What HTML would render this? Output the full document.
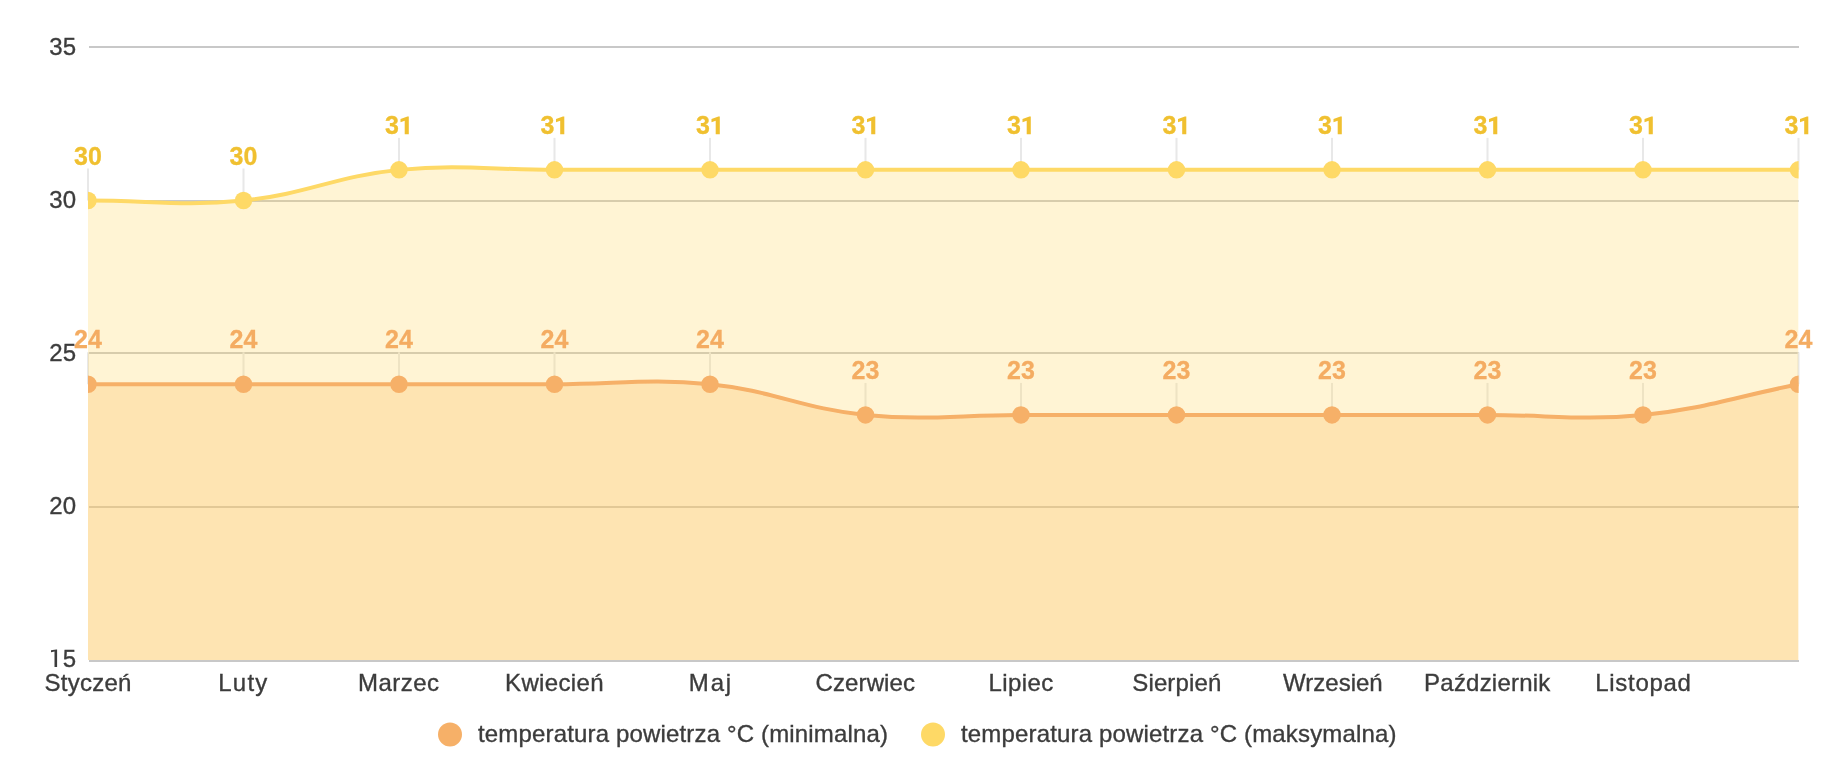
<!DOCTYPE html>
<html><head><meta charset="utf-8"><style>
html,body{margin:0;padding:0;background:#fff;width:1836px;height:782px;overflow:hidden;position:relative;font-family:"Liberation Sans", sans-serif;}
</style></head><body>
<svg width="1836" height="782" viewBox="0 0 1836 782" style="position:absolute;left:0;top:0;will-change:transform">
<style>.t{fill:#3c3c3c;stroke:#3c3c3c;stroke-width:0.35px;}.ly{fill:#F0C030;stroke:#F0C030;stroke-width:0.3px;}.lo{fill:#F4AC62;stroke:#F4AC62;stroke-width:0.3px;}</style>
<defs><clipPath id="c"><rect x="88" y="0" width="1710.6" height="782"/></clipPath></defs>
<rect x="89" y="46" width="1710" height="2" fill="#c8c8c8"/>
<rect x="89" y="200" width="1710" height="2" fill="#c8c8c8"/>
<rect x="89" y="352" width="1710" height="2" fill="#c8c8c8"/>
<rect x="89" y="506" width="1710" height="2" fill="#c8c8c8"/>
<rect x="87.00" y="168.50" width="2" height="32.00" fill="#e8e8e8"/>
<rect x="242.50" y="168.50" width="2" height="32.00" fill="#e8e8e8"/>
<rect x="398.00" y="137.87" width="2" height="32.00" fill="#e8e8e8"/>
<rect x="553.50" y="137.87" width="2" height="32.00" fill="#e8e8e8"/>
<rect x="709.00" y="137.87" width="2" height="32.00" fill="#e8e8e8"/>
<rect x="864.50" y="137.87" width="2" height="32.00" fill="#e8e8e8"/>
<rect x="1020.00" y="137.87" width="2" height="32.00" fill="#e8e8e8"/>
<rect x="1175.50" y="137.87" width="2" height="32.00" fill="#e8e8e8"/>
<rect x="1331.00" y="137.87" width="2" height="32.00" fill="#e8e8e8"/>
<rect x="1486.50" y="137.87" width="2" height="32.00" fill="#e8e8e8"/>
<rect x="1642.00" y="137.87" width="2" height="32.00" fill="#e8e8e8"/>
<rect x="1797.50" y="137.87" width="2" height="32.00" fill="#e8e8e8"/>
<rect x="87.00" y="352.28" width="2" height="32.00" fill="#e8e8e8"/>
<rect x="242.50" y="352.28" width="2" height="32.00" fill="#e8e8e8"/>
<rect x="398.00" y="352.28" width="2" height="32.00" fill="#e8e8e8"/>
<rect x="553.50" y="352.28" width="2" height="32.00" fill="#e8e8e8"/>
<rect x="709.00" y="352.28" width="2" height="32.00" fill="#e8e8e8"/>
<rect x="864.50" y="382.91" width="2" height="32.00" fill="#e8e8e8"/>
<rect x="1020.00" y="382.91" width="2" height="32.00" fill="#e8e8e8"/>
<rect x="1175.50" y="382.91" width="2" height="32.00" fill="#e8e8e8"/>
<rect x="1331.00" y="382.91" width="2" height="32.00" fill="#e8e8e8"/>
<rect x="1486.50" y="382.91" width="2" height="32.00" fill="#e8e8e8"/>
<rect x="1642.00" y="382.91" width="2" height="32.00" fill="#e8e8e8"/>
<rect x="1797.50" y="352.28" width="2" height="32.00" fill="#e8e8e8"/>
<g clip-path="url(#c)">
<path d="M88.00 200.50 C150.20 200.50 181.89 206.57 243.50 200.50 C306.29 194.32 336.21 176.05 399.00 169.87 C460.61 163.80 492.30 169.87 554.50 169.87 C616.70 169.87 647.80 169.87 710.00 169.87 C772.20 169.87 803.30 169.87 865.50 169.87 C927.70 169.87 958.80 169.87 1021.00 169.87 C1083.20 169.87 1114.30 169.87 1176.50 169.87 C1238.70 169.87 1269.80 169.87 1332.00 169.87 C1394.20 169.87 1425.30 169.87 1487.50 169.87 C1549.70 169.87 1580.80 169.87 1643.00 169.87 C1705.20 169.87 1736.30 169.87 1798.50 169.87 L1798.50 660 L88.00 660 Z" fill="rgba(254,217,102,0.28)"/>
<path d="M88.00 384.28 C150.20 384.28 181.30 384.28 243.50 384.28 C305.70 384.28 336.80 384.28 399.00 384.28 C461.20 384.28 492.30 384.28 554.50 384.28 C616.70 384.28 648.39 378.21 710.00 384.28 C772.79 390.46 802.71 408.73 865.50 414.91 C927.11 420.98 958.80 414.91 1021.00 414.91 C1083.20 414.91 1114.30 414.91 1176.50 414.91 C1238.70 414.91 1269.80 414.91 1332.00 414.91 C1394.20 414.91 1425.30 414.91 1487.50 414.91 C1549.70 414.91 1581.39 420.98 1643.00 414.91 C1705.79 408.73 1736.30 396.53 1798.50 384.28 L1798.50 660 L88.00 660 Z" fill="rgba(252,191,99,0.30)"/>
</g>
<rect x="89" y="660" width="1710" height="2" fill="#c8c8c8"/>
<g clip-path="url(#c)">
<path d="M88.00 200.50 C150.20 200.50 181.89 206.57 243.50 200.50 C306.29 194.32 336.21 176.05 399.00 169.87 C460.61 163.80 492.30 169.87 554.50 169.87 C616.70 169.87 647.80 169.87 710.00 169.87 C772.20 169.87 803.30 169.87 865.50 169.87 C927.70 169.87 958.80 169.87 1021.00 169.87 C1083.20 169.87 1114.30 169.87 1176.50 169.87 C1238.70 169.87 1269.80 169.87 1332.00 169.87 C1394.20 169.87 1425.30 169.87 1487.50 169.87 C1549.70 169.87 1580.80 169.87 1643.00 169.87 C1705.20 169.87 1736.30 169.87 1798.50 169.87" fill="none" stroke="#FED966" stroke-width="4"/>
<path d="M88.00 384.28 C150.20 384.28 181.30 384.28 243.50 384.28 C305.70 384.28 336.80 384.28 399.00 384.28 C461.20 384.28 492.30 384.28 554.50 384.28 C616.70 384.28 648.39 378.21 710.00 384.28 C772.79 390.46 802.71 408.73 865.50 414.91 C927.11 420.98 958.80 414.91 1021.00 414.91 C1083.20 414.91 1114.30 414.91 1176.50 414.91 C1238.70 414.91 1269.80 414.91 1332.00 414.91 C1394.20 414.91 1425.30 414.91 1487.50 414.91 C1549.70 414.91 1581.39 420.98 1643.00 414.91 C1705.79 408.73 1736.30 396.53 1798.50 384.28" fill="none" stroke="#F6B068" stroke-width="4"/>
<circle cx="88.00" cy="200.50" r="8.75" fill="#FED966"/>
<circle cx="243.50" cy="200.50" r="8.75" fill="#FED966"/>
<circle cx="399.00" cy="169.87" r="8.75" fill="#FED966"/>
<circle cx="554.50" cy="169.87" r="8.75" fill="#FED966"/>
<circle cx="710.00" cy="169.87" r="8.75" fill="#FED966"/>
<circle cx="865.50" cy="169.87" r="8.75" fill="#FED966"/>
<circle cx="1021.00" cy="169.87" r="8.75" fill="#FED966"/>
<circle cx="1176.50" cy="169.87" r="8.75" fill="#FED966"/>
<circle cx="1332.00" cy="169.87" r="8.75" fill="#FED966"/>
<circle cx="1487.50" cy="169.87" r="8.75" fill="#FED966"/>
<circle cx="1643.00" cy="169.87" r="8.75" fill="#FED966"/>
<circle cx="1798.50" cy="169.87" r="8.75" fill="#FED966"/>
<circle cx="88.00" cy="384.28" r="8.75" fill="#F6B068"/>
<circle cx="243.50" cy="384.28" r="8.75" fill="#F6B068"/>
<circle cx="399.00" cy="384.28" r="8.75" fill="#F6B068"/>
<circle cx="554.50" cy="384.28" r="8.75" fill="#F6B068"/>
<circle cx="710.00" cy="384.28" r="8.75" fill="#F6B068"/>
<circle cx="865.50" cy="414.91" r="8.75" fill="#F6B068"/>
<circle cx="1021.00" cy="414.91" r="8.75" fill="#F6B068"/>
<circle cx="1176.50" cy="414.91" r="8.75" fill="#F6B068"/>
<circle cx="1332.00" cy="414.91" r="8.75" fill="#F6B068"/>
<circle cx="1487.50" cy="414.91" r="8.75" fill="#F6B068"/>
<circle cx="1643.00" cy="414.91" r="8.75" fill="#F6B068"/>
<circle cx="1798.50" cy="384.28" r="8.75" fill="#F6B068"/>
</g>
<text x="88.00" y="165.00" text-anchor="middle" font-family='"Liberation Sans", sans-serif' font-weight="bold" font-size="25" class="ly">30</text>
<text x="243.50" y="165.00" text-anchor="middle" font-family='"Liberation Sans", sans-serif' font-weight="bold" font-size="25" class="ly">30</text>
<text x="385.10" y="134.37" font-family='"Liberation Sans", sans-serif' font-weight="bold" font-size="25" class="ly">3</text>
<path d="M408.80 116.57 L408.80 134.37 L404.70 134.37 L404.70 120.87 L400.50 122.17 L400.50 119.02 L407.40 116.57 Z" fill="#F0C030"/>
<text x="540.60" y="134.37" font-family='"Liberation Sans", sans-serif' font-weight="bold" font-size="25" class="ly">3</text>
<path d="M564.30 116.57 L564.30 134.37 L560.20 134.37 L560.20 120.87 L556.00 122.17 L556.00 119.02 L562.90 116.57 Z" fill="#F0C030"/>
<text x="696.10" y="134.37" font-family='"Liberation Sans", sans-serif' font-weight="bold" font-size="25" class="ly">3</text>
<path d="M719.80 116.57 L719.80 134.37 L715.70 134.37 L715.70 120.87 L711.50 122.17 L711.50 119.02 L718.40 116.57 Z" fill="#F0C030"/>
<text x="851.60" y="134.37" font-family='"Liberation Sans", sans-serif' font-weight="bold" font-size="25" class="ly">3</text>
<path d="M875.30 116.57 L875.30 134.37 L871.20 134.37 L871.20 120.87 L867.00 122.17 L867.00 119.02 L873.90 116.57 Z" fill="#F0C030"/>
<text x="1007.10" y="134.37" font-family='"Liberation Sans", sans-serif' font-weight="bold" font-size="25" class="ly">3</text>
<path d="M1030.80 116.57 L1030.80 134.37 L1026.70 134.37 L1026.70 120.87 L1022.50 122.17 L1022.50 119.02 L1029.40 116.57 Z" fill="#F0C030"/>
<text x="1162.60" y="134.37" font-family='"Liberation Sans", sans-serif' font-weight="bold" font-size="25" class="ly">3</text>
<path d="M1186.30 116.57 L1186.30 134.37 L1182.20 134.37 L1182.20 120.87 L1178.00 122.17 L1178.00 119.02 L1184.90 116.57 Z" fill="#F0C030"/>
<text x="1318.10" y="134.37" font-family='"Liberation Sans", sans-serif' font-weight="bold" font-size="25" class="ly">3</text>
<path d="M1341.80 116.57 L1341.80 134.37 L1337.70 134.37 L1337.70 120.87 L1333.50 122.17 L1333.50 119.02 L1340.40 116.57 Z" fill="#F0C030"/>
<text x="1473.60" y="134.37" font-family='"Liberation Sans", sans-serif' font-weight="bold" font-size="25" class="ly">3</text>
<path d="M1497.30 116.57 L1497.30 134.37 L1493.20 134.37 L1493.20 120.87 L1489.00 122.17 L1489.00 119.02 L1495.90 116.57 Z" fill="#F0C030"/>
<text x="1629.10" y="134.37" font-family='"Liberation Sans", sans-serif' font-weight="bold" font-size="25" class="ly">3</text>
<path d="M1652.80 116.57 L1652.80 134.37 L1648.70 134.37 L1648.70 120.87 L1644.50 122.17 L1644.50 119.02 L1651.40 116.57 Z" fill="#F0C030"/>
<text x="1784.60" y="134.37" font-family='"Liberation Sans", sans-serif' font-weight="bold" font-size="25" class="ly">3</text>
<path d="M1808.30 116.57 L1808.30 134.37 L1804.20 134.37 L1804.20 120.87 L1800.00 122.17 L1800.00 119.02 L1806.90 116.57 Z" fill="#F0C030"/>
<text x="88.00" y="347.80" text-anchor="middle" font-family='"Liberation Sans", sans-serif' font-weight="bold" font-size="25" class="lo">24</text>
<text x="243.50" y="347.80" text-anchor="middle" font-family='"Liberation Sans", sans-serif' font-weight="bold" font-size="25" class="lo">24</text>
<text x="399.00" y="347.80" text-anchor="middle" font-family='"Liberation Sans", sans-serif' font-weight="bold" font-size="25" class="lo">24</text>
<text x="554.50" y="347.80" text-anchor="middle" font-family='"Liberation Sans", sans-serif' font-weight="bold" font-size="25" class="lo">24</text>
<text x="710.00" y="347.80" text-anchor="middle" font-family='"Liberation Sans", sans-serif' font-weight="bold" font-size="25" class="lo">24</text>
<text x="865.50" y="378.80" text-anchor="middle" font-family='"Liberation Sans", sans-serif' font-weight="bold" font-size="25" class="lo">23</text>
<text x="1021.00" y="378.80" text-anchor="middle" font-family='"Liberation Sans", sans-serif' font-weight="bold" font-size="25" class="lo">23</text>
<text x="1176.50" y="378.80" text-anchor="middle" font-family='"Liberation Sans", sans-serif' font-weight="bold" font-size="25" class="lo">23</text>
<text x="1332.00" y="378.80" text-anchor="middle" font-family='"Liberation Sans", sans-serif' font-weight="bold" font-size="25" class="lo">23</text>
<text x="1487.50" y="378.80" text-anchor="middle" font-family='"Liberation Sans", sans-serif' font-weight="bold" font-size="25" class="lo">23</text>
<text x="1643.00" y="378.80" text-anchor="middle" font-family='"Liberation Sans", sans-serif' font-weight="bold" font-size="25" class="lo">23</text>
<text x="1798.50" y="347.80" text-anchor="middle" font-family='"Liberation Sans", sans-serif' font-weight="bold" font-size="25" class="lo">24</text>
<text x="76" y="55.00" text-anchor="end" font-family='"Liberation Sans", sans-serif' font-size="24" class="t">35</text>
<text x="76" y="208.00" text-anchor="end" font-family='"Liberation Sans", sans-serif' font-size="24" class="t">30</text>
<text x="76" y="361.00" text-anchor="end" font-family='"Liberation Sans", sans-serif' font-size="24" class="t">25</text>
<text x="76" y="514.00" text-anchor="end" font-family='"Liberation Sans", sans-serif' font-size="24" class="t">20</text>
<text x="76" y="667" text-anchor="end" font-family='"Liberation Sans", sans-serif' font-size="24" class="t">5</text>
<path d="M57.1 649.6 L57.1 666.9 L54.5 666.9 L54.5 651.5 L51.0 652.3 L51.0 650.2 L56.3 649.6 Z" fill="#3c3c3c"/>
<text x="88.12" y="691" text-anchor="middle" font-family='"Liberation Sans", sans-serif' font-size="24" letter-spacing="0.25" class="t">Styczeń</text>
<text x="243.39" y="691" text-anchor="middle" font-family='"Liberation Sans", sans-serif' font-size="24" letter-spacing="1.18" class="t">Luty</text>
<text x="398.75" y="691" text-anchor="middle" font-family='"Liberation Sans", sans-serif' font-size="24" letter-spacing="0.51" class="t">Marzec</text>
<text x="554.47" y="691" text-anchor="middle" font-family='"Liberation Sans", sans-serif' font-size="24" letter-spacing="0.35" class="t">Kwiecień</text>
<text x="710.92" y="691" text-anchor="middle" font-family='"Liberation Sans", sans-serif' font-size="24" letter-spacing="1.85" class="t">Maj</text>
<text x="865.35" y="691" text-anchor="middle" font-family='"Liberation Sans", sans-serif' font-size="24" letter-spacing="0.11" class="t">Czerwiec</text>
<text x="1021.21" y="691" text-anchor="middle" font-family='"Liberation Sans", sans-serif' font-size="24" letter-spacing="0.41" class="t">Lipiec</text>
<text x="1176.87" y="691" text-anchor="middle" font-family='"Liberation Sans", sans-serif' font-size="24" letter-spacing="0.14" class="t">Sierpień</text>
<text x="1332.90" y="691" text-anchor="middle" font-family='"Liberation Sans", sans-serif' font-size="24" letter-spacing="0.00" class="t">Wrzesień</text>
<text x="1487.30" y="691" text-anchor="middle" font-family='"Liberation Sans", sans-serif' font-size="24" letter-spacing="0.21" class="t">Październik</text>
<text x="1643.45" y="691" text-anchor="middle" font-family='"Liberation Sans", sans-serif' font-size="24" letter-spacing="0.71" class="t">Listopad</text>
<circle cx="450" cy="734.5" r="12" fill="#F6B068"/>
<text x="478" y="742" font-family='"Liberation Sans", sans-serif' font-size="24" letter-spacing="0.16" class="t">temperatura powietrza °C (minimalna)</text>
<circle cx="933" cy="734.5" r="12" fill="#FED966"/>
<text x="961" y="742" font-family='"Liberation Sans", sans-serif' font-size="24" letter-spacing="0.16" class="t">temperatura powietrza °C (maksymalna)</text>
</svg>
</body></html>
